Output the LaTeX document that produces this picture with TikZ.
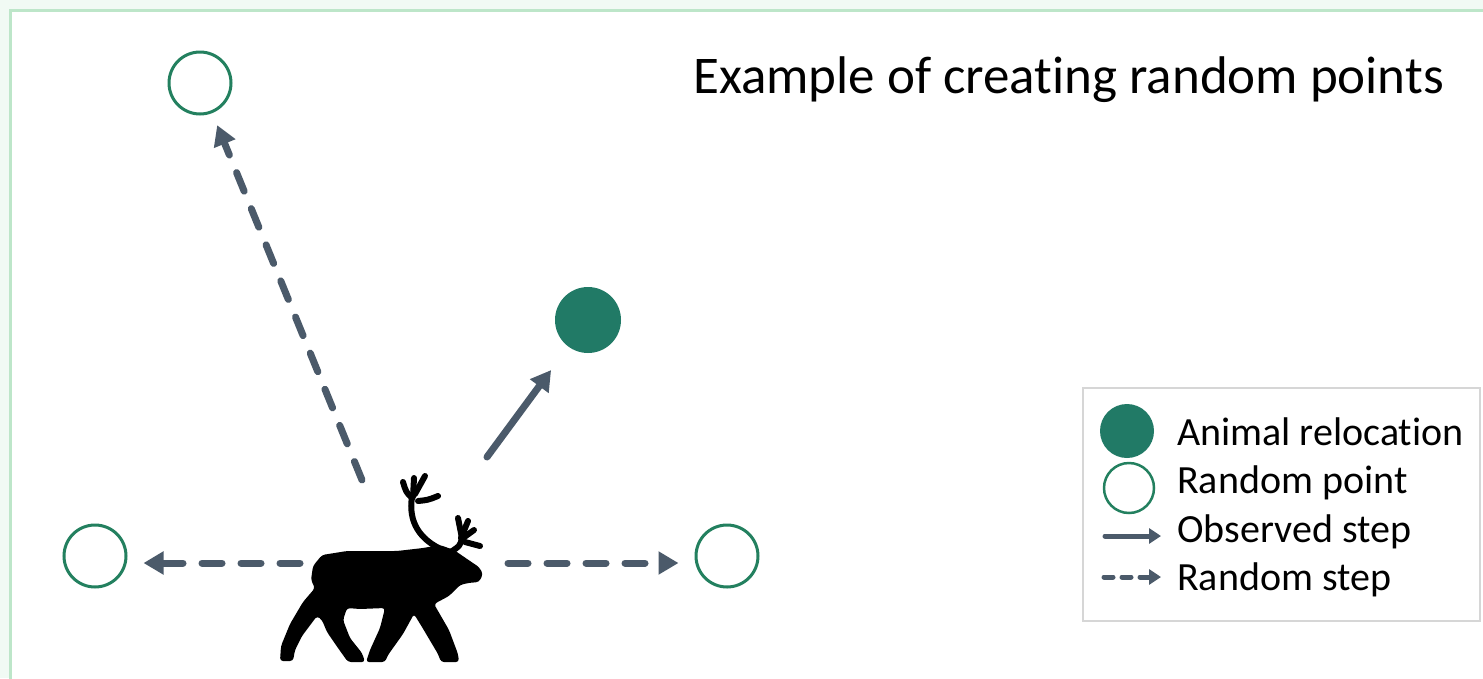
\documentclass[tikz,border=0pt]{standalone}
\usepackage{fontspec}
\setmainfont{Carlito}[Ligatures=NoCommon]
\usepackage{tikz}
\usetikzlibrary{arrows.meta,positioning}

\definecolor{fixgreen}{HTML}{217A66}
\definecolor{ringgreen}{HTML}{23805F}
\definecolor{stepgray}{HTML}{4B5A6A}
\definecolor{framegreen}{HTML}{BDE6C9}
\definecolor{paleback}{HTML}{F1FAF4}
\definecolor{legendgray}{HTML}{D6D6D6}

\begin{document}
\begin{tikzpicture}[x=1pt,y=-1pt,
    randpt/.style={circle,draw=ringgreen,line width=3pt,minimum size=62pt,inner sep=0pt,fill=white},
    relocpt/.style={circle,fill=fixgreen,minimum size=66pt,inner sep=0pt},
    obsstep/.style={draw=stepgray,line width=7pt,line cap=round,-{Triangle[length=20pt,width=22pt]}},
    randstep/.style={obsstep,dash pattern=on 20pt off 19pt},
    keytext/.style={anchor=base west,inner sep=0pt,font=\fontsize{40}{48}\selectfont}]
    \useasboundingbox (0,0) rectangle (1483,678);
    \fill[paleback] (0,0) rectangle (1483,678);
    \filldraw[fill=white,draw=framegreen,line width=3pt] (10.5,10.5) rectangle (1500,700);

    \node[anchor=base west,inner sep=0pt,font=\fontsize{53}{62}\selectfont] (title) at (693,93) {Example of creating random points};

    % points around the animal
    \node[randpt] (rpN) at (200,83) {};
    \node[randpt] (rpW) at (95,556) {};
    \node[randpt] (rpE) at (727,556) {};
    \node[relocpt] (reloc) at (588,320) {};

    % where the steps leave the animal
    \coordinate (tailN) at (362,480);
    \coordinate (tailW) at (300,563);
    \coordinate (tailE) at (508,563);
    \coordinate (tailR) at (487,457);

    \draw[randstep,shorten >=13pt] (tailN) -- (rpN);
    \draw[randstep,shorten >=16pt] (tailW) -- (tailW -| rpW.east);
    \draw[randstep,shorten >=16pt] (tailE) -- (tailE -| rpE.west);
    \draw[obsstep,shorten >=29pt] (tailR) -- (reloc);

    % reindeer
    \fill[black,rounded corners=3pt]
        (311,580) -- (313,566) -- (322,555) -- (347,551) -- (397,551) -- (423,548)
        -- (440,545) -- (454,550) -- (470,561) -- (479,567) -- (483,574) -- (479,582)
        -- (468,583) -- (460,585) -- (449,596) -- (434,604)
        -- (449,630) -- (458,654) -- (459,662) -- (441,662) -- (438,654) -- (422,627) -- (414,614)
        -- (403,634) -- (388,655) -- (385,662) -- (366,662) -- (370,650) -- (380,628) -- (385,608)
        -- (360,609) -- (347,608)
        -- (343,620) -- (350,638) -- (362,653) -- (365,662) -- (348,662) -- (338,648) -- (327,632) -- (322,620)
        -- (317,616) -- (302,636) -- (295,650) -- (293,661) -- (280,661) -- (281,646) -- (290,624) -- (303,602) -- (315,588) -- cycle;
    \begin{scope}[line width=6pt,line cap=round,line join=round]
        \draw (443,550) .. controls (420,540) and (408,522) .. (412,497);
        \draw (412,498) .. controls (406,492) .. (403,482);
        \draw (413,497) -- (414,478);
        \draw (415,494) .. controls (420,485) .. (425,476);
        \draw (418,501) .. controls (428,500) .. (438,496);
        \draw (449,553) .. controls (460,546) .. (462,538) -- (458,518);
        \draw (461,538) -- (468,521);
        \draw (463,538) -- (474,530);
        \draw (465,542) -- (480,546);
    \end{scope}

    % legend
    \node[draw=legendgray,line width=2pt,minimum width=397pt,minimum height=233pt,inner sep=0pt] (legend) at (1281.5,504.5) {};
    \node[relocpt,minimum size=54pt] (keyreloc) at (1127,431) {};
    \node[randpt,minimum size=50pt,line width=2.5pt] (keyrand) at (1129,488) {};
    \coordinate (keyobsA) at (1105,536);
    \coordinate (keyobsB) at (1161,536);
    \coordinate (keyrndA) at (1104,577);
    \coordinate (keyrndB) at (1161,577);
    \draw[obsstep,line width=5pt,-{Triangle[length=12pt,width=15pt]}] (keyobsA) -- (keyobsB);
    \draw[randstep,line width=5pt,dash pattern=on 9pt off 9pt,-{Triangle[length=12pt,width=15pt]}] (keyrndA) -- (keyrndB);
    \node[keytext] (lblreloc) at (1177,445) {Animal relocation};
    \node[keytext] (lblrand) at (1177,493) {Random point};
    \node[keytext] (lblobs) at (1177,542) {Observed step};
    \node[keytext] (lblrnd) at (1177,590) {Random step};
\end{tikzpicture}
\end{document}
